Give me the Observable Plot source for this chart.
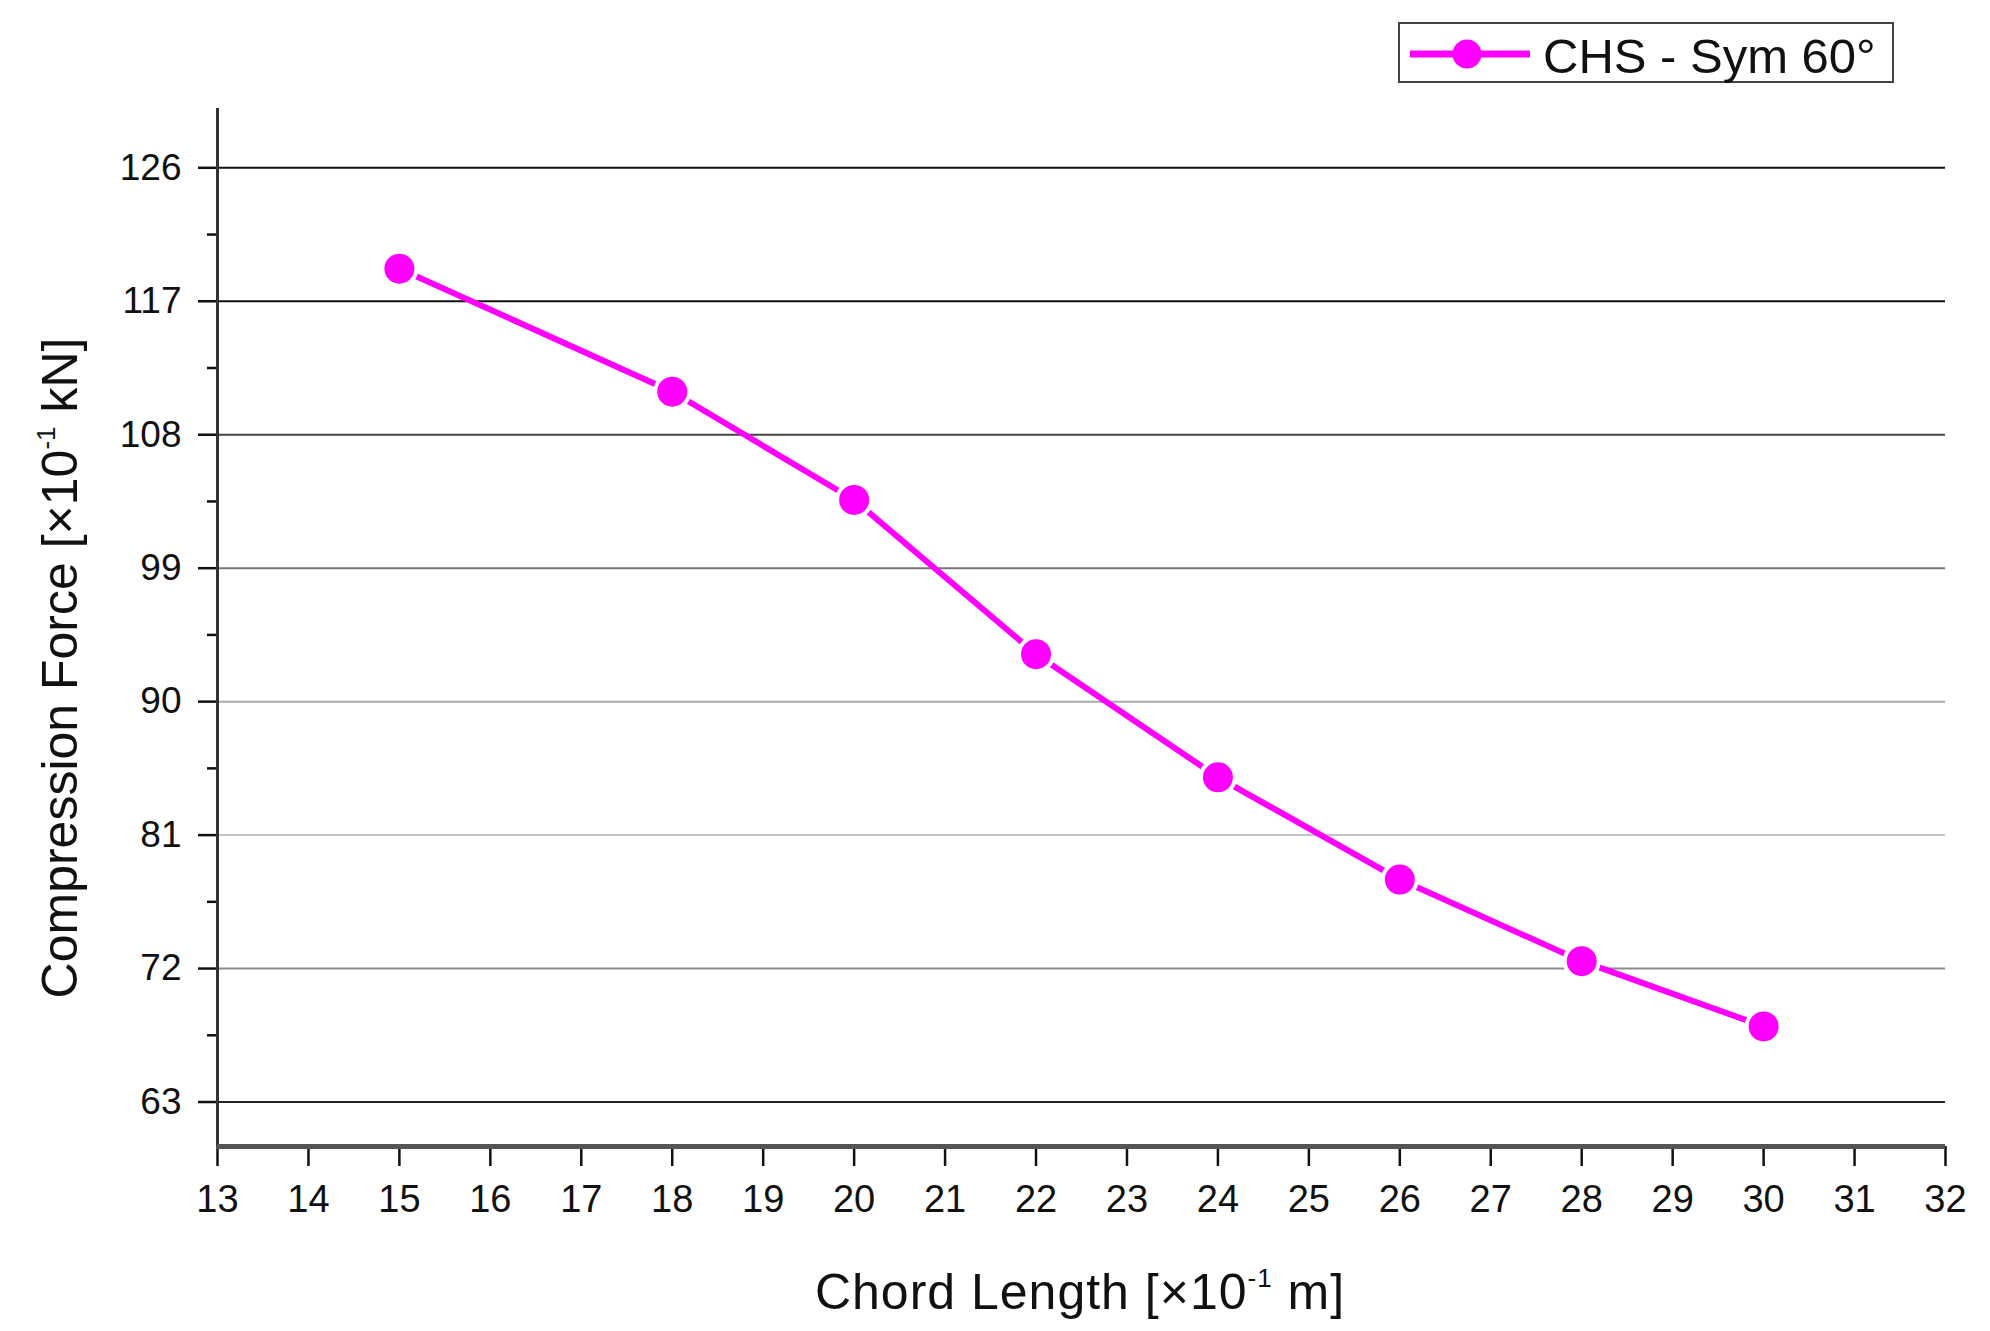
<!DOCTYPE html>
<html>
<head>
<meta charset="utf-8">
<script src="https://cdn.jsdelivr.net/npm/d3@7"></script>
<script src="https://cdn.jsdelivr.net/npm/@observablehq/plot@0.6"></script>
<style>
  html, body { margin: 0; padding: 0; background: #fff; }
  #wrap { position: relative; width: 1990px; height: 1331px; font-family: "Liberation Sans", Arial, sans-serif; color: #111; }
  #legend { position: absolute; left: 1398px; top: 22px; width: 492px; height: 57px; border: 2px solid #444; background: #fff; }
  #legend svg { overflow: visible; }
</style>
</head>
<body>
<div id="wrap"></div>
<script>
// ---- data ----
const chordLength = [15, 18, 20, 22, 24, 26, 28, 30];
const compressionForce = [119.2, 110.9, 103.6, 93.2, 84.9, 78.0, 72.5, 68.1];
const seriesName = "CHS - Sym 60°";
const xTicks = [13, 14, 15, 16, 17, 18, 19, 20, 21, 22, 23, 24, 25, 26, 27, 28, 29, 30, 31, 32];
const yTicks = [63, 72, 81, 90, 99, 108, 117, 126];
const yMinorTicks = [67.5, 76.5, 85.5, 94.5, 103.5, 112.5, 121.5];
const xDomain = [13, 32];
const yDomain = [60, 130];
const gridColors = ["#222", "#8a8a8a", "#c4c4c4", "#aaaaaa", "#777", "#444", "#111", "#111"];

const data = chordLength.map((x, i) => ({x, y: compressionForce[i]}));
const magenta = "#ff00ff";
const font = '"Liberation Sans", Arial, sans-serif';

const chart = Plot.plot({
  width: 1990,
  height: 1331,
  marginLeft: 217,
  marginRight: 45,
  marginTop: 108,
  marginBottom: 185,
  x: {domain: xDomain},
  y: {domain: yDomain},
  style: {fontFamily: font, background: "#fff", color: "#111"},
  marks: [
    Plot.ruleY(yTicks, {y: d => d, stroke: (d, i) => gridColors[i], strokeWidth: 2}),
    Plot.axisX({ticks: xTicks, tickSize: 20, tickPadding: 19, fontSize: 38, label: null, strokeWidth: 2.5, tickFormat: d => String(d)}),
    Plot.axisY({ticks: yTicks, tickSize: 19, tickPadding: 17, fontSize: 37, label: null, strokeWidth: 2.5, tickFormat: d => String(d)}),
    Plot.axisY({ticks: yMinorTicks, tickSize: 10, text: null, label: null, strokeWidth: 2.5}),
    Plot.ruleX([xDomain[0]], {stroke: "#333", strokeWidth: 3}),
    Plot.ruleY([yDomain[0]], {stroke: "#555", strokeWidth: 5}),
    Plot.line(data, {x: "x", y: "y", stroke: magenta, strokeWidth: 6}),
    Plot.dot(data, {x: "x", y: "y", r: 17, fill: magenta, stroke: "#fff", strokeWidth: 4})
  ]
});

const wrap = document.getElementById("wrap");
wrap.appendChild(chart);

const svg = d3.select(chart);
// Y axis title
const yt = svg.append("text")
  .attr("transform", "translate(77,668) rotate(-90)")
  .attr("text-anchor", "middle")
  .attr("font-size", 50)
  .attr("fill", "#111")
  .attr("font-family", font);
yt.append("tspan").text("Compression Force [×10");
yt.append("tspan").attr("font-size", 26).attr("dy", -22).text("-1");
yt.append("tspan").attr("dy", 22).text(" kN]");

// X axis title
const xt = svg.append("text")
  .attr("x", 1080)
  .attr("y", 1309)
  .attr("text-anchor", "middle")
  .attr("font-size", 50)
  .attr("letter-spacing", 1)
  .attr("fill", "#111")
  .attr("font-family", font);
xt.append("tspan").text("Chord Length [×10");
xt.append("tspan").attr("font-size", 26).attr("dy", -22).text("-1");
xt.append("tspan").attr("dy", 22).text(" m]");

// Legend
const legend = document.createElement("div");
legend.id = "legend";
wrap.appendChild(legend);
const lsvg = d3.select(legend).append("svg").attr("width", 492).attr("height", 57);
lsvg.append("line").attr("x1", 10).attr("x2", 130).attr("y1", 30).attr("y2", 30)
  .attr("stroke", magenta).attr("stroke-width", 7);
lsvg.append("circle").attr("cx", 67).attr("cy", 30).attr("r", 14.5).attr("fill", magenta);
lsvg.append("text").attr("x", 143).attr("y", 49).attr("font-size", 49)
  .attr("font-family", font).attr("fill", "#111").text(seriesName);
</script>
</body>
</html>
